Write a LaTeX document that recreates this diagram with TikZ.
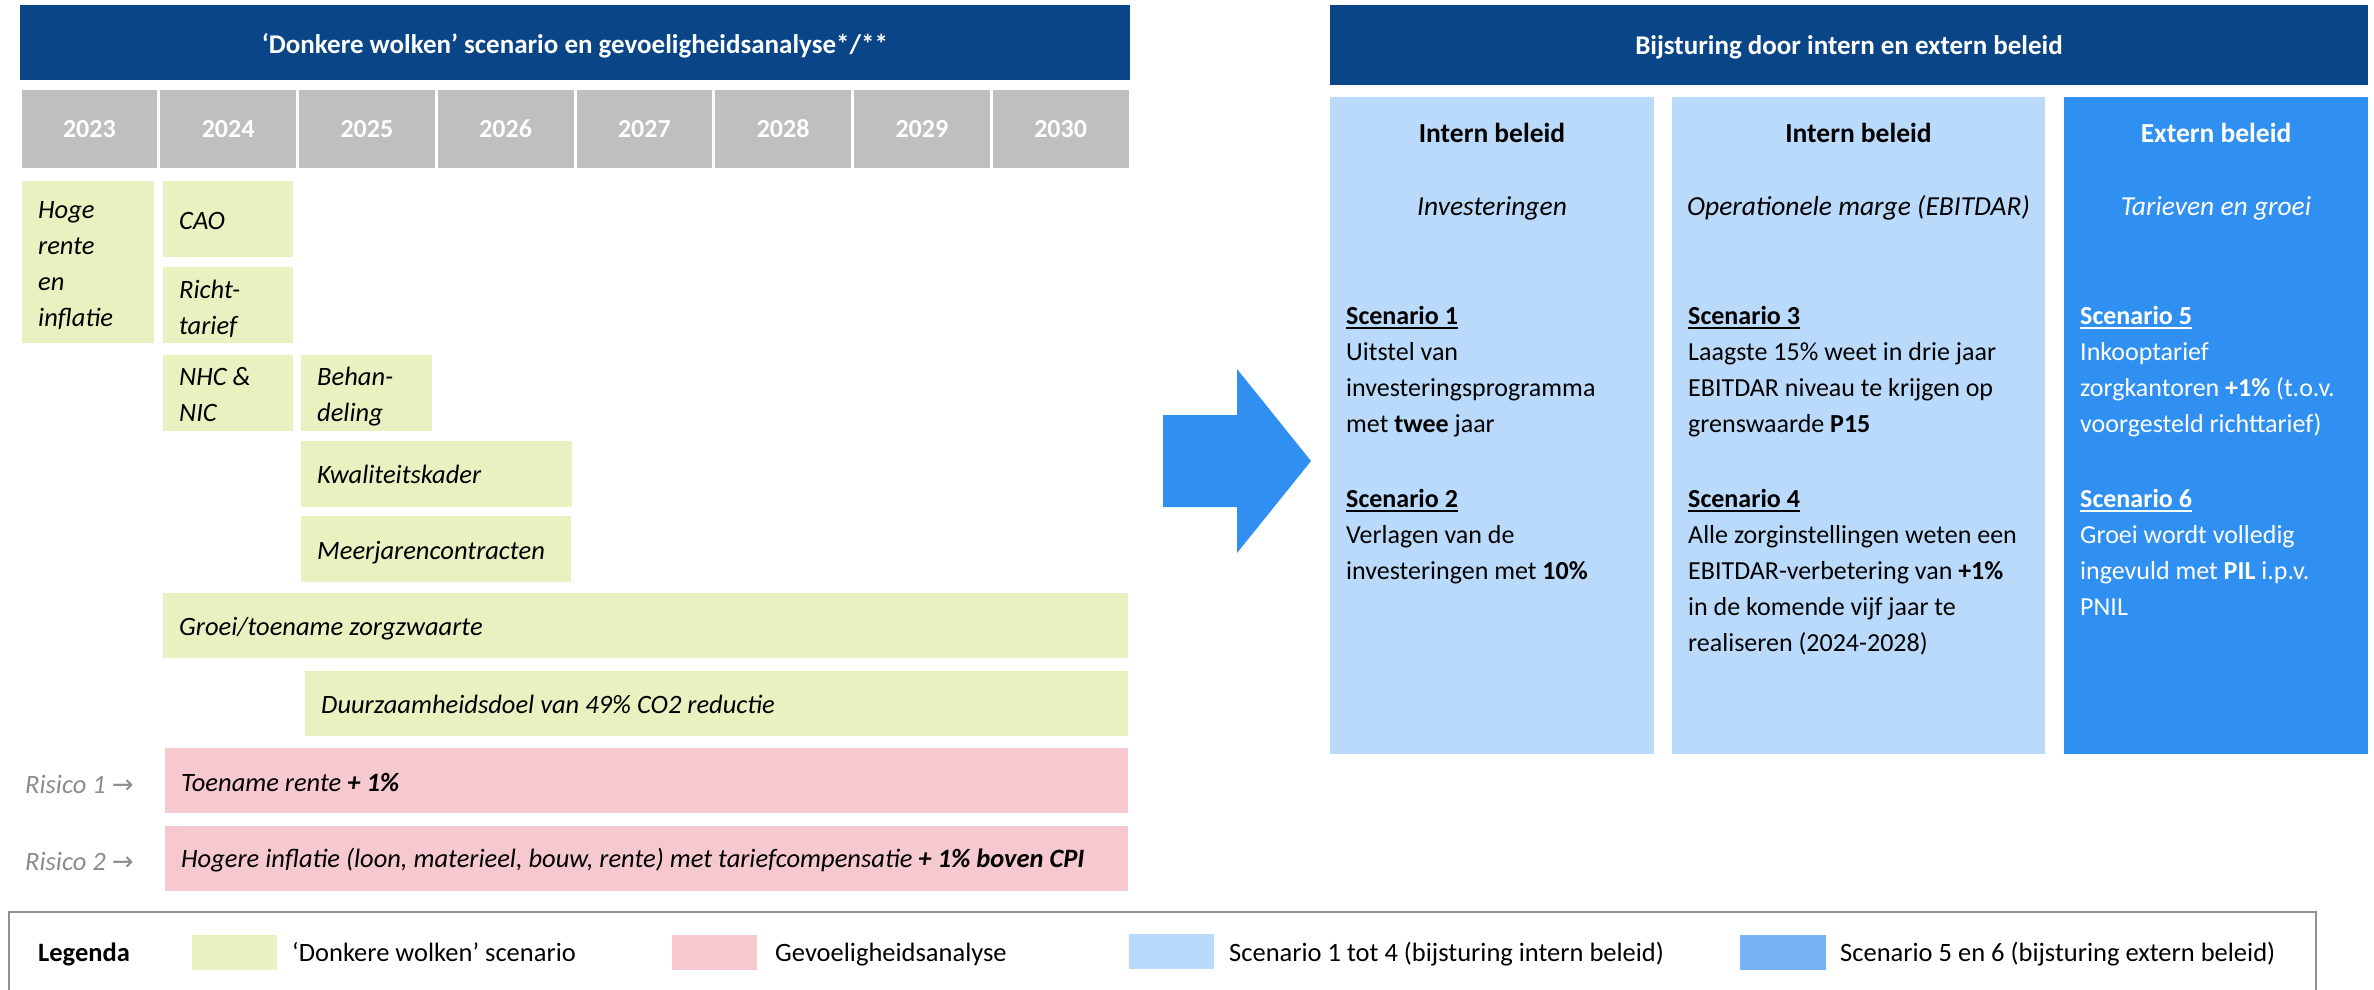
\documentclass[tikz,border=0pt]{standalone}
\usepackage{fontspec}
\setmainfont{Carlito}
\newfontfamily\symfont{DejaVu Sans}
\definecolor{hdrblue}{HTML}{0A4687}
\definecolor{yrgray}{HTML}{BFBFBF}
\definecolor{gbg}{HTML}{EBF0C1}
\definecolor{pbg}{HTML}{F6C8CF}
\definecolor{lbg}{HTML}{BADAFB}
\definecolor{ebg}{HTML}{3090F2}
\definecolor{legdark}{HTML}{76B4F6}
\definecolor{riskgray}{HTML}{8C8C8C}
\definecolor{leggray}{HTML}{8F8F8F}
\newcommand\mkbox[6]{\node[#2, minimum width=#5pt, minimum height=#6pt] (#1) at (#3,#4) {};}
\newcommand\ulbold[1]{\setbox0=\hbox{\textbf{#1}}\rlap{\rule[-4.5pt]{\wd0}{2.2pt}}\box0}
\tikzset{
  blk/.style={inner sep=0pt, outer sep=0pt, anchor=north west},
  hdr/.style={blk, fill=hdrblue},
  hdrtx/.style={inner sep=0pt, anchor=base, text=white, font=\fontsize{27}{32}\selectfont\bfseries},
  yr/.style={inner sep=0pt, fill=yrgray, text=white, minimum width=135.75pt, minimum height=78pt, font=\fontsize{26}{30}\selectfont\bfseries},
  gbox/.style={blk, fill=gbg},
  pbox/.style={blk, fill=pbg},
  ibox/.style={blk, fill=lbg},
  ebox/.style={blk, fill=ebg},
  itx/.style={inner sep=0pt, anchor=base west, font=\fontsize{26.5}{36}\selectfont\itshape},
  itml/.style={inner sep=0pt, anchor=north west, align=left, font=\fontsize{26.5}{36}\selectfont\itshape},
  body/.style={inner sep=0pt, anchor=north west, align=left, font=\fontsize{26}{36}\selectfont},
  colhd/.style={inner sep=0pt, anchor=base, font=\fontsize{27.5}{36}\selectfont\bfseries},
  colsub/.style={inner sep=0pt, anchor=base, font=\fontsize{27.5}{36}\selectfont\itshape},
  risk/.style={inner sep=0pt, anchor=base west, text=riskgray, font=\fontsize{26.5}{30}\selectfont\itshape},
  legsq/.style={blk, minimum width=85pt, minimum height=35pt},
  legtx/.style={inner sep=0pt, anchor=base west, font=\fontsize{26.5}{30}\selectfont},
  legline/.style={draw=leggray, line width=1.3pt},
}
\begin{document}
\begin{tikzpicture}[x=1pt,y=-1pt]
\useasboundingbox (0,0) rectangle (2374,990);
% ---------- left part ----------
\mkbox{lhdr}{hdr}{20}{5}{1110}{75}
\node[hdrtx] (lhdrtx) at (575,53) {‘Donkere wolken’ scenario en gevoeligheidsanalyse*/**};
\foreach \i/\yy in {0/2023,1/2024,2/2025,3/2026,4/2027,5/2028,6/2029,7/2030}{
  \node[yr] (y\yy) at ({20+138.75*(\i+0.5)},129) {\yy};
}
\mkbox{hoge}{gbox}{22}{181}{132}{162}
\mkbox{cao}{gbox}{163}{181}{130}{76}
\mkbox{richt}{gbox}{163}{267}{130}{76}
\mkbox{nhc}{gbox}{163}{355}{130}{76}
\mkbox{behan}{gbox}{301}{355}{131}{76}
\mkbox{kwal}{gbox}{301}{441}{271}{66}
\mkbox{meer}{gbox}{301}{516}{270}{66}
\mkbox{groei}{gbox}{163}{593}{965}{65}
\mkbox{duur}{gbox}{305}{671}{823}{65}
\mkbox{risk1}{pbox}{165}{748}{963}{65}
\mkbox{risk2}{pbox}{165}{826}{963}{65}
\node[itml] (hogetx) at (38,192.8) {\strut Hoge\\rente\\en\\inflatie};
\node[itx] (caotx) at (179,229) {CAO};
\node[itml] (richttx) at (179,272.8) {\strut Richt-\\tarief};
\node[itml] (nhctx) at (179,359.8) {\strut NHC \&\\NIC};
\node[itml] (behantx) at (317,359.8) {\strut Behan-\\deling};
\node[itx] (kwaltx) at (317,483) {Kwaliteitskader};
\node[itx] (meertx) at (317,559) {Meerjarencontracten};
\node[itx] (groeitx) at (179,635) {Groei/toename zorgzwaarte};
\node[itx] (duurtx) at (321,713) {Duurzaamheidsdoel van 49\% CO2 reductie};
\node[itx] (risk1tx) at (181,791) {Toename rente \textbf{+ 1\%}};
\node[itx] (risk2tx) at (181,867) {Hogere inflatie (loon, materieel, bouw, rente) met tariefcompensatie \textbf{+ 1\% boven CPI}};
\node[risk] (risk1lb) at (25,793) {Risico 1 {\symfont\fontsize{26}{30}\selectfont →}};
\node[risk] (risk2lb) at (25,870) {Risico 2 {\symfont\fontsize{26}{30}\selectfont →}};
% ---------- big arrow ----------
\fill[ebg] (1163,415) -- (1237,415) -- (1237,369) -- (1311,461) -- (1237,553) -- (1237,507) -- (1163,507) -- cycle;
% ---------- right part ----------
\mkbox{rhdr}{hdr}{1330}{5}{1038}{80}
\node[hdrtx] (rhdrtx) at (1849,55) {Bijsturing door intern en extern beleid};
\mkbox{col1}{ibox}{1330}{97}{324}{657}
\mkbox{col2}{ibox}{1672}{97}{373}{657}
\mkbox{col3}{ebox}{2064}{97}{304}{657}
\node[colhd] (c1hd) at (1492,142) {Intern beleid};
\node[colsub] (c1sub) at (1492,215) {Investeringen};
\node[colhd] (c2hd) at (1858.5,142) {Intern beleid};
\node[colsub] (c2sub) at (1858.5,215) {Operationele marge (EBITDAR)};
\node[colhd, text=white] (c3hd) at (2216,142) {Extern beleid};
\node[colsub, text=white] (c3sub) at (2216,215) {Tarieven en groei};
\node[body] (s1) at (1346,298.8) {\strut\ulbold{Scenario 1}\\Uitstel van\\investeringsprogramma\\met \textbf{twee} jaar};
\node[body] (s2) at (1346,481.8) {\strut\ulbold{Scenario 2}\\Verlagen van de\\investeringen met \textbf{10\%}};
\node[body] (s3) at (1688,298.8) {\strut\ulbold{Scenario 3}\\Laagste 15\% weet in drie jaar\\EBITDAR niveau te krijgen op\\grenswaarde \textbf{P15}};
\node[body] (s4) at (1688,481.8) {\strut\ulbold{Scenario 4}\\Alle zorginstellingen weten een\\EBITDAR-verbetering van \textbf{+1\%}\\in de komende vijf jaar te\\realiseren (2024-2028)};
\node[body, text=white] (s5) at (2080,298.8) {\strut\ulbold{Scenario 5}\\Inkooptarief\\zorgkantoren \textbf{+1\%} (t.o.v.\\voorgesteld richttarief)};
\node[body, text=white] (s6) at (2080,481.8) {\strut\ulbold{Scenario 6}\\Groei wordt volledig\\ingevuld met \textbf{PIL} i.p.v.\\PNIL};
% ---------- legend ----------
\draw[legline] (9,995) -- (9,912) -- (2316,912) -- (2316,995);
\draw[draw=leggray, line width=2.5pt] (9,912) -- (2316,912);
\node[legtx, font=\fontsize{26.5}{30}\selectfont\bfseries] (legt) at (38,961) {Legenda};
\mkbox{lg1}{legsq, fill=gbg}{192}{935}{85}{35}
\node[legtx] (lg1tx) at (292,961) {‘Donkere wolken’ scenario};
\mkbox{lg2}{legsq, fill=pbg}{672}{935}{85}{35}
\node[legtx] (lg2tx) at (775,961) {Gevoeligheidsanalyse};
\mkbox{lg3}{legsq, fill=lbg}{1129}{934}{85}{35}
\node[legtx] (lg3tx) at (1229,961) {Scenario 1 tot 4 (bijsturing intern beleid)};
\mkbox{lg4}{legsq, fill=legdark}{1740}{935}{86}{35}
\node[legtx] (lg4tx) at (1840,961) {Scenario 5 en 6 (bijsturing extern beleid)};
\end{tikzpicture}
\end{document}
